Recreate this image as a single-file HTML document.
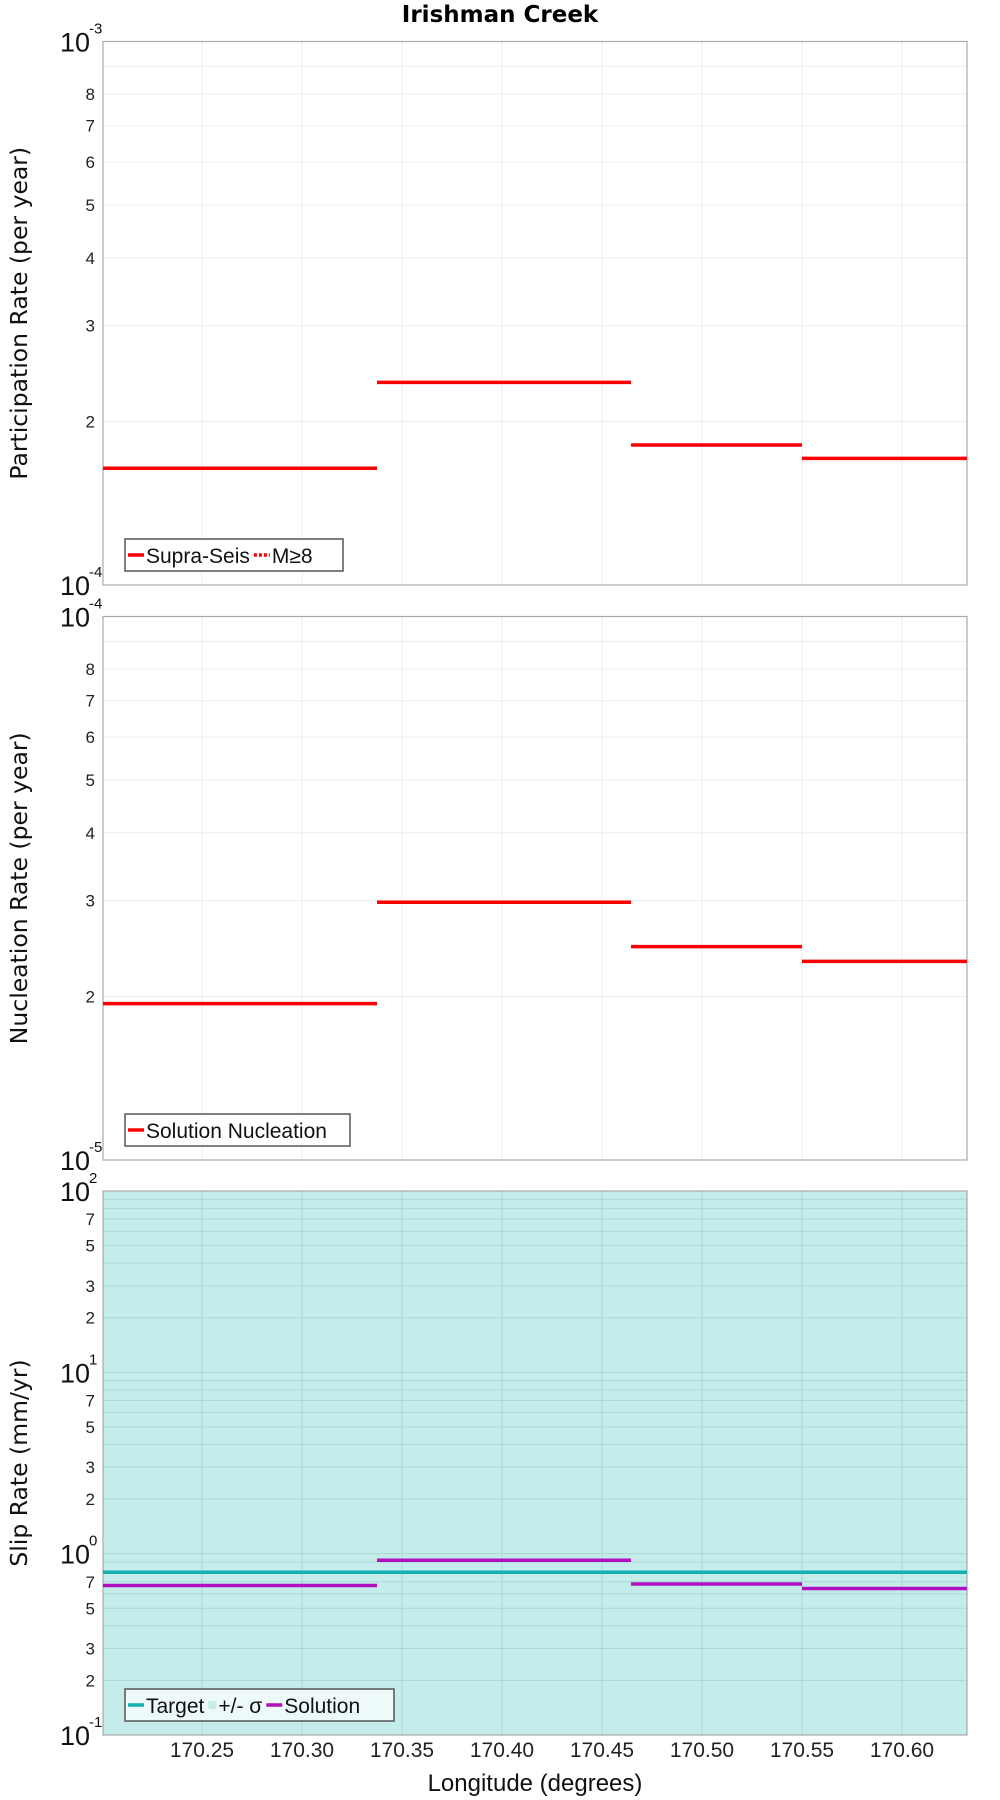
<!DOCTYPE html>
<html><head><meta charset="utf-8"><style>
html,body{margin:0;padding:0;background:#fff;}
svg{display:block;}
.tk{font-family:"Liberation Sans Narrow","Liberation Sans",sans-serif;font-size:17px;fill:#222;}
.big{font-family:"Liberation Sans Narrow","Liberation Sans",sans-serif;font-size:27px;fill:#111;}
.sup{font-family:"Liberation Sans Narrow","Liberation Sans",sans-serif;font-size:15px;fill:#111;}
.yt{font-family:"DejaVu Sans","Liberation Sans",sans-serif;font-size:23.5px;fill:#111;}
.lg{font-family:"Liberation Sans Narrow","Liberation Sans",sans-serif;font-size:21px;fill:#111;}
</style></head><body>
<svg id="chart" width="1000" height="1800" viewBox="0 0 1000 1800" xmlns="http://www.w3.org/2000/svg">
<text x="500" y="22" text-anchor="middle" style="font-family:'DejaVu Sans','Liberation Sans',sans-serif;font-weight:bold;font-size:23px;fill:#000">Irishman Creek</text>
</svg>
<script>
const xTicks=[170.25,170.30,170.35,170.40,170.45,170.50,170.55,170.60];
const xMin=170.2005, xMax=170.6325;
const segStarts=[170.2005,170.3375,170.4645,170.55];
const segEnds=[170.3375,170.4645,170.55,170.6325];
const partValues=[1.64e-4,2.36e-4,1.81e-4,1.71e-4];
const nuclValues=[1.94e-5,2.98e-5,2.47e-5,2.32e-5];
const slipSolution=[0.667,0.92,0.68,0.643];
const slipTarget=[0.79,0.79,0.79,0.79];

const svg=document.getElementById('chart');
const NS='http://www.w3.org/2000/svg';
const L=103,R=967;
function xs(v){return L+(v-xMin)/(xMax-xMin)*(R-L);}
function mk(tag,attrs,parent){const e=document.createElementNS(NS,tag);for(const k in attrs)e.setAttribute(k,attrs[k]);(parent||svg).appendChild(e);return e;}

function panel(cfg){
  const {top,bot,dmin,dmax,name}=cfg;
  const g=mk('g',{});
  
  
  const ys=v=>bot-(Math.log10(v)-dmin)/(dmax-dmin)*(bot-top);
  const bg=mk('rect',{x:L,y:top,width:R-L,height:bot-top,fill:cfg.fill||'#fff'},g);
  
  
  const gc=cfg.fill?'#aad8d6':'#ececec';
  for(const t of xTicks){const l=mk('line',{x1:xs(t),x2:xs(t),y1:top,y2:bot,stroke:gc,'stroke-width':1},g);
    }
  for(let d=dmin;d<dmax;d++){
    for(let m=1;m<=9;m++){
      const v=m*Math.pow(10,d);const y=ys(v);
      if(m>1||d>dmin){const l=mk('line',{x1:L,x2:R,y1:y,y2:y,stroke:gc,'stroke-width':1},g);
        }
      if(m>1 && cfg.minorLabels.includes(m)){
        const t=mk('text',{x:L-8,y:y+6,'text-anchor':'end',class:'tk'},g);t.textContent=m;
        }
    }
  }
  for(let d=dmin;d<=dmax;d++){
    const y=ys(Math.pow(10,d));
    const t=mk('text',{x:L-43,y:y+10,class:'big'},g);t.textContent='10';
    
    const s=mk('text',{x:L-14,y:y-8,class:'sup'},g);s.textContent=String(d);
    
  }
  mk('rect',{x:L,y:top,width:R-L,height:bot-top,fill:'none',stroke:'#aaa','stroke-width':1.2},g);
  const yt=mk('text',{x:0,y:0,class:'yt','text-anchor':'middle',transform:`translate(27,${(top+bot)/2}) rotate(-90)`},g);
  yt.textContent=cfg.ytitle;
  
  for(const s of cfg.series){
    for(let i=0;i<s.vals.length;i++){
      const y=ys(s.vals[i]);
      const l=mk('line',{x1:xs(segStarts[i]),x2:xs(segEnds[i]),y1:y,y2:y,stroke:s.color,'stroke-width':3.5},g);
      
    }
  }
  const lg=mk('g',{},g);
  
  const ly=bot-46;
  mk('rect',{x:125,y:ly,width:cfg.legW,height:32,fill:cfg.fill?'#eef9f9':'#fff',stroke:'#555','stroke-width':1.5},lg);
  let x=128;
  for(const e of cfg.legend){
    const item=mk('g',{},lg);
    
    if(e.box){mk('rect',{x:x,y:ly+12,width:8,height:8,fill:e.color},item);x+=10;}
    else{mk('line',{x1:x,x2:x+16,y1:ly+16,y2:ly+16,stroke:e.color,'stroke-width':3.5,'stroke-dasharray':e.dash||'none'},item);x+=18;}
    const t=mk('text',{x:x,y:ly+24,class:'lg'},item);t.textContent=e.label;
    x+=t.getComputedTextLength()+4;
  }
}
panel({name:'participation',top:41.5,bot:585,dmin:-4,dmax:-3,ytitle:'Participation Rate (per year)',minorLabels:[2,3,4,5,6,7,8],
  series:[{name:'supra-seis',vals:partValues,color:'#ff0000'}],legW:218,
  legend:[{label:'Supra-Seis',color:'#ff0000'},{label:'M≥8',color:'#ff0000',dash:'3,2'}]});
panel({name:'nucleation',top:616.5,bot:1160,dmin:-5,dmax:-4,ytitle:'Nucleation Rate (per year)',minorLabels:[2,3,4,5,6,7,8],
  series:[{name:'solution-nucleation',vals:nuclValues,color:'#ff0000'}],legW:225,
  legend:[{label:'Solution Nucleation',color:'#ff0000'}]});
panel({name:'slip',top:1191,bot:1735,dmin:-1,dmax:2,fill:'#c3ecea',ytitle:'Slip Rate (mm/yr)',minorLabels:[2,3,5,7],
  series:[{name:'target',vals:slipTarget,color:'#12b0ae'},{name:'solution',vals:slipSolution,color:'#b010c0'}],legW:269,
  legend:[{label:'Target',color:'#12b0ae'},{label:'+/- σ',color:'#c3ecea',box:true},{label:'Solution',color:'#b010c0'}]});
for(const t of xTicks){
  const e=mk('text',{x:xs(t),y:1757,'text-anchor':'middle',class:'tk',style:'font-size:21px'});
  e.textContent=t.toFixed(2);
  
  
}
const xt=mk('text',{x:535,y:1791,'text-anchor':'middle',class:'lg',style:'font-size:24px'});
xt.textContent='Longitude (degrees)';


</script>
</body></html>
